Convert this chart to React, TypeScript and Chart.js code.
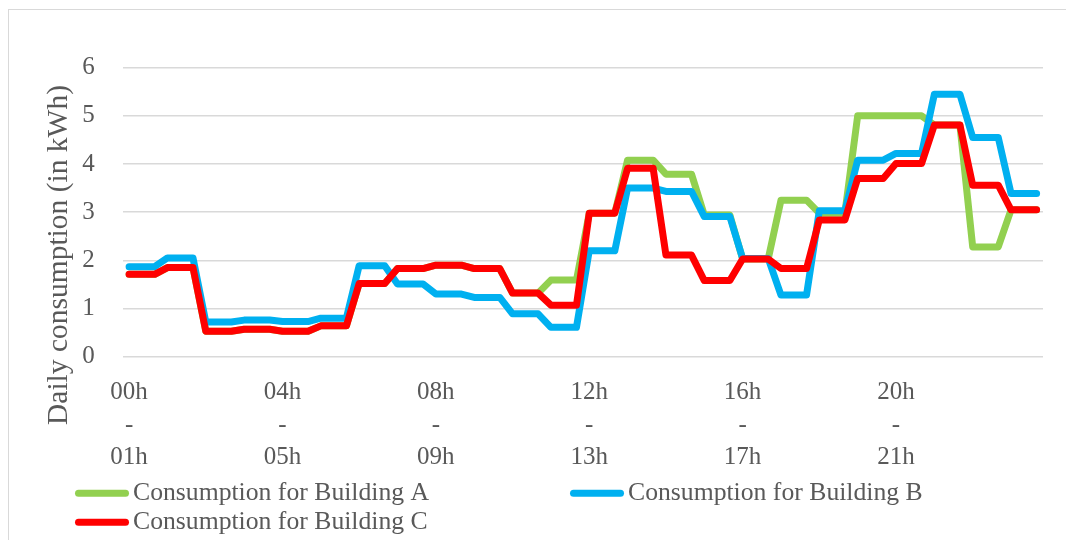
import React, { useEffect, useRef } from "react";
import { Chart, registerables } from "chart.js";

Chart.register(...registerables);

const hourLabels = [
  "00h - 01h", "01h - 02h", "02h - 03h", "03h - 04h", "04h - 05h", "05h - 06h",
  "06h - 07h", "07h - 08h", "08h - 09h", "09h - 10h", "10h - 11h", "11h - 12h",
  "12h - 13h", "13h - 14h", "14h - 15h", "15h - 16h", "16h - 17h", "17h - 18h",
  "18h - 19h", "19h - 20h", "20h - 21h", "21h - 22h", "22h - 23h", "23h - 24h",
];

const shownHourTicks = [0, 4, 8, 12, 16, 20];

const buildingA = [
  1.71, 1.85, 0.53, 0.57, 0.53, 0.64, 1.52, 1.83, 1.9, 1.83, 1.32, 1.59,
  2.98, 4.08, 3.79, 2.94, 2.03, 3.25, 2.98, 5.0, 5.0, 4.81, 2.28, 3.05,
];
const buildingB = [
  1.87, 2.05, 0.72, 0.76, 0.73, 0.8, 1.89, 1.51, 1.3, 1.23, 0.89, 0.61,
  2.2, 3.5, 3.43, 2.91, 2.04, 1.28, 3.03, 4.08, 4.22, 5.45, 4.55, 3.39,
];
const buildingC = [
  1.71, 1.85, 0.53, 0.57, 0.53, 0.64, 1.52, 1.83, 1.9, 1.83, 1.32, 1.07,
  2.98, 3.91, 2.11, 1.58, 2.03, 1.83, 2.84, 3.7, 4.01, 4.81, 3.56, 3.05,
];

const seriesNames = [
  "Consumption for Building A",
  "Consumption for Building B",
  "Consumption for Building C",
];
const seriesColors = ["#92D050", "#00B0F0", "#FF0000"];

const yTitle = "Daily consumption (in kWh)";

const STEPS_PER_HOUR = 3;
const FONT = "'Liberation Serif', 'Times New Roman', serif";
const TEXT = "#595959";

// each hourly value is held flat across the hour (repeated points)
function hourSteps(values: number[]) {
  const pts: { x: number; y: number }[] = [];
  values.forEach((v, h) => {
    for (let k = 0; k < STEPS_PER_HOUR; k++) pts.push({ x: h * STEPS_PER_HOUR + k, y: v });
  });
  return pts;
}

const extrasPlugin = {
  id: "extras",
  afterDraw(chart: any) {
    const ctx = chart.ctx as CanvasRenderingContext2D;
    ctx.save();
    // y-axis title
    ctx.fillStyle = TEXT;
    ctx.font = `29.5px ${FONT}`;
    ctx.textAlign = "center";
    ctx.textBaseline = "alphabetic";
    ctx.translate(57.7, 245);
    ctx.rotate(-Math.PI / 2);
    ctx.fillText(yTitle, 0, 0);
    ctx.restore();

    // legend (two-column grid)
    const items = [
      { i: 0, lx: 69.5, ly: 483.3, tx: 124, ty: 490 },
      { i: 1, lx: 564.5, ly: 483.3, tx: 619, ty: 490 },
      { i: 2, lx: 69.5, ly: 512.3, tx: 124, ty: 518.5 },
    ];
    ctx.save();
    ctx.font = `25.7px ${FONT}`;
    ctx.textAlign = "left";
    ctx.textBaseline = "alphabetic";
    items.forEach((it) => {
      ctx.strokeStyle = seriesColors[it.i];
      ctx.lineWidth = 7;
      ctx.lineCap = "round";
      ctx.beginPath();
      ctx.moveTo(it.lx, it.ly);
      ctx.lineTo(it.lx + 47, it.ly);
      ctx.stroke();
      ctx.fillStyle = TEXT;
      ctx.fillText(seriesNames[it.i], it.tx, it.ty);
    });
    ctx.restore();
  },
};

export default function App() {
  const ref = useRef<HTMLCanvasElement | null>(null);

  useEffect(() => {
    if (!ref.current) return;
    const all = [buildingA, buildingB, buildingC];
    const chart = new Chart(ref.current, {
      type: "line",
      data: {
        datasets: all.map((vals, i) => ({
          label: seriesNames[i],
          data: hourSteps(vals),
          borderColor: seriesColors[i],
          backgroundColor: seriesColors[i],
          borderWidth: 7,
          pointRadius: 0,
          pointHoverRadius: 0,
          tension: 0,
          borderCapStyle: "round" as const,
          borderJoinStyle: "round" as const,
          order: 3 - i,
        })),
      },
      options: {
        responsive: false,
        animation: false,
        events: [],
        layout: { padding: { left: 0, right: 23, top: 57.7, bottom: 0 } },
        plugins: {
          legend: { display: false },
          tooltip: { enabled: false },
          title: { display: false },
        },
        scales: {
          x: {
            type: "linear",
            min: -0.5,
            max: hourLabels.length * STEPS_PER_HOUR - 0.5,
            grid: { display: false, drawTicks: false },
            border: { display: false },
            afterBuildTicks: (axis: any) => {
              axis.ticks = shownHourTicks.map((h) => ({ value: h * STEPS_PER_HOUR }));
            },
            afterFit: (axis: any) => {
              axis.height = 183.3;
            },
            ticks: {
              autoSkip: false,
              maxRotation: 0,
              minRotation: 0,
              padding: 19.5,
              color: TEXT,
              font: { family: FONT, size: 25, lineHeight: 1.3 },
              callback: (value: any) => {
                const h = Math.round(Number(value) / STEPS_PER_HOUR);
                const lab = hourLabels[h] || "";
                return lab.split(" ");
              },
            },
          },
          y: {
            min: 0,
            max: 6,
            grid: { color: "#d9d9d9", lineWidth: 1.5, drawTicks: false },
            border: { display: false },
            afterFit: (axis: any) => {
              axis.width = 113.7;
            },
            ticks: {
              stepSize: 1,
              padding: 28,
              color: TEXT,
              font: { family: FONT, size: 25 },
            },
          },
        },
      },
      plugins: [extrasPlugin],
    });
    return () => chart.destroy();
  }, []);

  return (
    <div
      style={{
        position: "fixed",
        left: 8,
        top: 9,
        width: 1058,
        height: 531,
        borderTop: "1px solid #d9d9d9",
        borderLeft: "1px solid #d9d9d9",
        boxSizing: "border-box",
        background: "#ffffff",
      }}
    >
      <canvas ref={ref} width={1057} height={530} style={{ display: "block" }} />
    </div>
  );
}
